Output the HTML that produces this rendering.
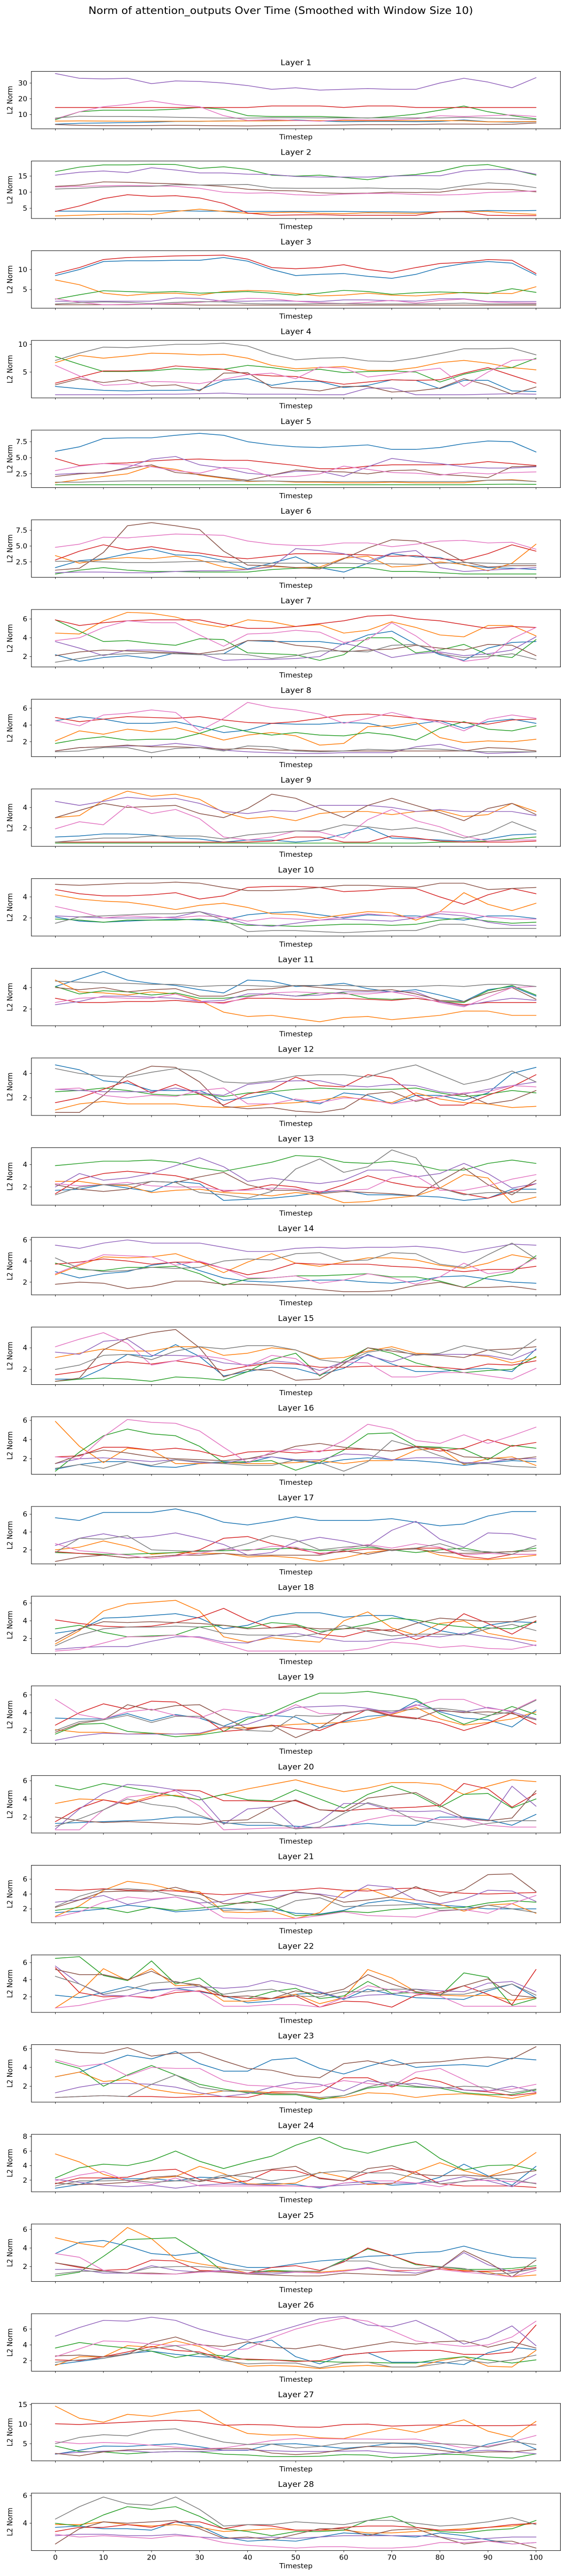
<!DOCTYPE html>
<html><head><meta charset="utf-8"><title>Norm of attention_outputs Over Time</title>
<style>
html,body{margin:0;padding:0;background:#fff;width:100%;height:100%;overflow:hidden;}
svg{display:block;position:absolute;left:0;top:0;width:100vw;height:100vh;font-family:"DejaVu Sans","Liberation Sans",sans-serif;overflow:hidden;}
</style></head>
<body>
<svg id="chart" viewBox="0 0 1089 5380" preserveAspectRatio="none" xmlns="http://www.w3.org/2000/svg">
<rect width="1089" height="5380" fill="#fff"/>
<text x="545" y="29" text-anchor="middle" font-size="21" fill="#000">Norm of attention_outputs Over Time (Smoothed with Window Size 10)</text>
</svg>
<script>
const timesteps = [0,5,10,15,20,25,30,35,40,45,50,55,60,65,70,75,80,85,90,95,100];
const xTicks = [0,10,20,30,40,50,60,70,80,90,100];
const seriesColors = ["#1f77b4","#ff7f0e","#2ca02c","#d62728","#9467bd","#8c564b","#e377c2","#7f7f7f"];
const yLimits = [[1,37.4],[1.8,19.7],[0.34,14.7],[0.34,10.7],[0.36,9.3],[0.08,9.14],[0.9,7],[0.22,7.08],[0.18,5.82],[0.28,5.74],[0.43,5.8],[0.55,5.27],[0.38,5.5],[0.8,6.24],[0.6,5.92],[0.38,6.38],[0.42,6.87],[0.31,6.77],[0.56,7.02],[0.25,6.57],[0.14,7.86],[0.18,6.9],[0.31,6.42],[0.4,8.3],[0.4,6.57],[0.67,7.94],[0.6,15.3],[2.02,6.18]];
const yTicks = [[10,20,30],[5,10,15],[5,10],[5,10],[2.5,5.0,7.5],[2.5,5.0,7.5],[2,4,6],[2,4,6],[2,4],[2,4],[2,4],[2,4],[2,4],[2,4,6],[2,4],[2,4,6],[2,4,6],[2,4,6],[2,4,6],[2,4,6],[2,4,6],[2,4,6],[2,4,6],[2,4,6,8],[2,4,6],[2,4,6],[5,10,15],[4,6]];
// each layer: [blue, orange, green, red, purple, brown, pink, gray]
const L1 = [[3.9,4.5,4.7,4.9,5.2,5.7,5.7,6,6,6.2,6.6,6,5.5,5.7,5.7,5.5,5.7,6.6,5.5,5.2,5.5],[5.9,6,5.9,5.8,5.8,5.8,5.8,5.9,6,6,6.2,6.2,6.2,6.1,6.1,6.1,6.2,6.1,5.4,5.5,5.6],[6.8,11.8,12.8,12.8,12.8,13.4,14.5,13.4,9.3,8.8,8.8,8.8,8.3,7.8,8.8,10.3,12.8,15.4,11.8,9.3,7.3],[14.5,14.5,14.5,14.5,14.5,14.5,14.5,14.5,14.5,15.5,15.5,15.5,14.5,15.5,15.5,14.5,14.5,14.5,14.5,14.5,14.5],[36,33,32.6,33,29.6,31.3,31,30,28.4,26,27,25.5,26,26.5,26,26,30,33,30.6,27,33.4],[3.7,3.2,3,3,3.1,3.2,3.1,2.9,2.8,3,3.1,3.2,3.4,3.6,3.6,3.7,4,4,3.8,3.9,4.7],[7.3,11.8,15,16.4,18.7,16.4,15,9.3,6.3,6.8,6.3,5.8,6.8,6.6,6.6,7.3,9.3,8.8,9.3,9.8,8.8],[7.8,9,8.8,8.8,8.6,8.3,8,7.8,7.8,8,8,7.9,7.9,7.9,7.9,7.9,7.9,8.3,7.8,7.5,6.8]];
const L2 = [[4.1,4.1,4,4,4.1,4.2,4.1,4.1,4,4,4,4,4,3.9,3.9,3.8,3.9,4.1,4.3,4.2,4.3],[2.6,2.8,3.1,3.2,3,4,4.7,4,3.4,3.6,3.8,3.4,3.3,3.6,3.5,3.4,3.8,4,4,3.4,3.1],[16.4,17.8,18.5,18.5,18.7,18.6,17.4,17.9,17.1,15.3,15,15.3,14.6,13.9,15,15.5,16.5,18.2,18.6,17.1,15.3],[4,5.7,8,9.2,8.7,8.9,8.2,6.5,3.5,2.8,2.9,3,2.8,2.8,2.8,2.8,3.9,3.9,2.8,2.7,2.7],[15.3,16.2,16.6,16.1,17.6,16.9,16,16,15.6,15.5,14.9,14.7,14.7,14.7,15,15.2,15.1,16.6,17.1,17,15.6],[11.8,12.2,13.2,13.1,12.8,12.6,12.2,11.8,10.9,10.5,10.4,9.8,9.6,9.7,10,9.9,10,11,10.9,10.8,10.1],[11.6,11.8,12,12.1,12,11.8,11.2,10,9.7,9.8,9.2,9,9.4,9.6,9.6,9.3,9.1,9.3,9.9,10.1,10.4],[11,11.2,11.6,11.8,11.8,12.3,12.2,12.3,12.4,11.3,11.2,11.2,11.2,11.3,11.1,11.1,10.9,12,12.9,12.5,11.4]];
const L3 = [[8.5,10,12,12.2,12.2,12.3,12.3,13,12.1,10,8.5,8.8,9,8.3,7.8,8.8,10.5,11.5,12,11.6,8.6],[7.4,6.2,4.1,3.5,4,4.1,3.6,4.5,4.8,4.6,4,3.4,3.6,4.1,3.6,3.4,3.8,4.3,4.1,4,5.7],[2.6,3.7,4.7,4.5,4.3,4.5,4.1,4.3,4.5,4.1,3.6,4.1,4.8,4.5,3.8,4.2,4.4,4.2,4,5.2,4.3],[9,10.5,12.5,13,13.2,13.4,13.5,13.6,12.6,10.5,10.2,10.5,11.2,10,9.3,10.5,11.5,11.8,12.5,12.3,9],[2.1,2.1,2.1,2.1,2.1,2.9,2.8,2.1,2.1,2.2,2.1,2,2.4,2.4,2.2,2.1,2.7,2.7,2,2,2],[1.2,1.2,1.2,1.2,1.3,1.3,1.1,1.1,1.1,1.1,1.1,1.1,1.1,1.1,1.1,1.1,1.1,1.1,1.1,1.1,1.1],[2.7,1.8,1.2,1.3,1.3,1.5,1.8,2.3,2.8,2.7,2.1,1.7,1.5,1.8,2.3,1.6,2.3,2.6,1.9,1.7,1.6],[1.4,1.7,1.9,1.8,1.5,1.8,2,1.9,1.5,1.4,1.4,1.5,1.5,1.4,1.4,1.4,1.5,1.6,1.4,1.4,1.4]];
const L4 = [[2.4,2,1.7,1.6,1.7,1.7,1.8,3.5,3.8,2.6,3.3,3.3,2.2,2.6,3.6,3.5,2,3.5,3.5,1.6,1.5],[6.7,8,7.5,7.9,8.4,8.3,8.1,8.2,7.5,6.2,5.6,5.8,6,5.3,5.3,5.8,6.7,7.1,6.6,5.8,5.4],[7.8,6.4,5.1,5.1,5.2,5.6,5.4,5.5,6.2,5.8,5.2,5.5,4.9,5.1,5.2,5,3.2,4.6,5.5,5.8,7.5],[3,4.1,5.2,5.2,5.4,6.1,5.8,5.5,4.6,4.3,4.2,3.4,2.8,3.2,3.6,3.5,3.6,4.8,5.8,4.4,3],[0.9,0.9,0.9,0.9,1,1,1.1,1.2,1,1,1,0.9,0.9,2.1,2.1,0.9,0.9,0.9,1,1.1,1],[2.7,3.8,3.1,3.6,2.5,2.7,1.6,4.8,4.9,2.2,2,1.6,2.4,2.4,1.4,1.6,2.1,3.8,2.6,1,2.3],[6.2,4.3,2.6,2.8,3.3,3.2,2.9,3.7,4.5,4.8,3.8,5.9,5.7,4.1,4.6,5.2,5.7,2.4,5,7.1,7.3],[7.1,8.4,9.5,9.4,9.7,10,10,10.2,9.7,8.2,7.2,7.5,7.6,7,6.9,7.5,8.3,9.2,9.2,9.3,8.1]];
const L5 = [[6,6.7,8,8.1,8.1,8.5,8.8,8.5,7.5,7,6.7,6.6,6.8,7,6.3,6.3,6.6,7.2,7.6,7.5,5.9],[1.1,1.6,2.1,2.5,3.7,3.2,2.3,1.8,1.3,1.4,1.2,1.2,1.1,1.1,1.2,1.1,1.1,1.1,1.5,1.6,1.3],[0.8,0.8,0.8,0.8,0.8,0.8,0.8,0.8,0.8,0.8,0.8,0.8,0.8,0.8,0.8,0.8,0.8,0.8,0.85,0.9,0.85],[4.9,3.8,4.1,4.2,4.5,4.7,4.8,4.6,4.6,4.2,3.8,3.3,3.3,3.7,3.9,3.9,3.9,4,4.4,4.1,3.8],[2.4,2.6,2.6,3.5,4.8,5.2,3.9,3.4,2.6,2.3,2.9,2.9,2.1,3.6,4.9,4.4,4.1,3.6,3.4,3.4,3.6],[2.1,2.5,2.7,3.3,3.9,2.7,2.4,1.9,1.5,2.3,3.1,2.9,2.8,2.5,3,3.1,2.4,2.2,1.9,3.6,3.7],[3,3.7,4.1,3.9,3.6,3,2.6,3.5,3.3,2,2.1,2.5,3.7,3.2,2.7,2.6,2.3,2.7,2.5,2.7,2.8],[1.2,1.2,1.3,1.4,1.4,1.4,1.4,1.4,1.4,1.4,1.3,1.3,1.3,1.3,1.3,1.3,1.3,1.3,1.5,1.5,1.3]];
const L6 = [[1.6,2.7,3,3.8,4.5,3.6,3.5,2.7,1.4,2.3,3.3,1.6,0.9,2.3,3.8,3.3,3.2,2,1.6,1.5,1.3],[3.5,2.3,2.9,3.2,3,3.4,2.8,1.7,1.3,1.8,1.6,1.7,3.1,3.4,1.7,1.9,2.5,2.1,1.1,2.3,5.3],[0.6,1.2,1.6,1.2,1,1,0.9,0.9,0.9,1.3,1.5,1.6,1.6,1.6,1,1,0.8,0.6,0.6,0.6,0.6],[2.8,4.2,5.2,4.4,4.9,4.3,3.9,3.3,3,3.4,3.8,3.8,3.7,3.6,3.4,3.5,3,2.8,3.8,5.2,4.2],[0.8,0.9,0.9,0.8,0.8,1,1.1,1.1,1.3,1.7,4.6,4.3,3.8,2.6,3.9,4.3,1.6,1,1.2,1.4,1.6],[1.2,1.5,4,8.2,8.7,8.2,7.6,4.2,2,1.9,1.6,1.4,3,4.7,6,5.8,4.5,2.5,1.7,1.9,1.9],[4.8,5.3,6.4,6.3,6.6,6.9,6.8,6.7,5.8,5.3,5.1,5.1,5.5,5.5,4.9,5.3,5.8,5.9,5.5,5.6,4.5],[2.6,2.6,2.5,2.4,2.4,2.5,2.6,2.5,2.4,2.3,2.3,2.3,2.3,2.2,2.2,2.1,2.3,2.4,2.3,2.2,2.2]];
const L7 = [[2.2,1.5,1.9,2.1,1.8,2.4,2.2,2.3,3.7,3.6,3.6,3.6,3.3,4.3,4.7,3.3,2.2,1.6,2.9,3.5,3.6],[4.5,4.4,5.8,6.7,6.6,6.2,5.5,5.1,5.9,5.7,5.2,5.4,4.5,4.8,5.7,5.1,4.3,4.1,5.3,5.3,4.2],[5.9,4.7,3.6,3.7,3.4,3.2,3.9,3.8,2.4,2.3,2.2,1.6,2.2,4,4,2.4,2.7,3.3,2.2,1.9,3.8],[5.9,5.3,5.6,5.8,5.9,5.9,5.9,5.4,5,5,5.2,5.5,5.8,6.3,6.4,6,5.8,5.4,5,5.2,5.1],[3.6,2.9,2.1,2.7,2.7,2.5,2.3,1.6,1.7,1.7,1.8,2,3.4,2.9,1.9,2.3,2.5,2.1,2.3,2.7,4.1],[2.1,2.5,2.7,2.6,2.5,2.4,2.3,2.7,3.7,3.7,3.2,3,2.5,2.7,2.8,3.2,2.9,2.7,3.3,3.2,2.1],[3.7,4,5.1,5.8,5.6,5.6,4.3,3.1,4.4,4.5,4.8,4.6,3.5,3.8,5.6,4.2,2.4,1.5,1.8,3.9,5.1],[1.4,1.8,2.2,2.3,2.4,2.3,2.2,2.3,2.2,1.8,2.1,2.6,2.6,2.5,3.2,3.3,2.3,1.9,2,2.3,1.7]];
const L8 = [[4.5,5,4.7,4.2,4.2,4.4,3.8,3.1,3.4,4.2,4.1,4.1,4.3,4.2,3.6,4.1,4.5,3.6,4.4,4.7,4.2],[2.1,3.3,2.9,3.5,3.2,3.7,3,2.2,2.8,3.1,2.7,1.6,1.8,3.8,3.9,4.3,2.5,1.9,2.1,2,2.3],[1.8,2.3,2.6,2.2,2.3,2.3,3,3.9,3.2,2.8,3.1,2.8,2.7,3.1,2.8,2.2,3.6,4.4,3.5,3.3,3.9],[4.9,4.4,4.7,5,4.9,4.8,5,4.6,4.3,4.2,4.4,4.8,5.2,5.3,5.1,4.8,4.5,4.3,4.1,4.6,4.7],[0.9,1.3,1.4,1.5,1.5,1.8,1.5,1,0.8,0.7,0.6,0.6,0.7,0.7,0.7,1.4,1.7,1,0.6,0.7,0.8],[0.9,1.3,1.4,1.6,1.4,1.4,1.3,1.1,1.2,1,1,0.9,0.9,0.9,0.9,0.9,0.9,0.9,1.3,1.2,0.9],[4.5,3.9,5.2,5.4,5.8,5.5,3.3,4.8,6.7,6.1,5.8,5.3,4.2,4.8,5.5,4.8,4.3,3.3,4.7,5.2,4.8],[0.8,0.9,1.3,1.3,0.7,1.2,1.3,0.9,1.5,1.4,0.9,0.8,0.9,1.1,1,1.2,1.1,0.9,0.8,0.8,0.8]];
const L9 = [[1.1,1.2,1.4,1.4,1.3,1,0.9,0.6,0.8,0.8,0.6,0.8,1.4,2,1,0.9,0.8,0.7,0.9,1.3,1.4],[3,3.2,4.7,5.6,5.1,5.3,4.8,3.5,2.9,3.1,2.7,3.4,3.6,3.6,3.3,3.6,3.7,3.1,3.3,4.4,3.6],[0.5,0.5,0.5,0.5,0.5,0.5,0.5,0.5,0.5,0.5,0.5,0.5,0.5,0.5,0.5,0.5,0.6,0.6,0.7,0.9,1.1],[0.6,0.6,0.6,0.6,0.6,0.6,0.6,0.6,0.6,0.7,1.1,1.1,0.6,0.6,1.2,1,0.7,0.6,0.6,0.6,0.7],[4.6,4.2,4.6,5,4.8,4.9,4.4,3.6,3.4,3.7,3.6,4.2,4.2,4.2,4,3.6,3.8,3.6,3.6,3.6,3.2],[3,3.7,4.4,4,4.1,4.2,3.4,3,3.9,5.3,4.9,3.9,3,4.2,4.9,4.2,3.5,2.7,3.9,4.4,3.3],[1.9,2.6,2.3,4.2,3.4,3.8,2.9,1.1,0.8,1.1,1.7,1.6,1,2.8,3.8,2.7,2.1,1.2,0.7,0.8,0.8],[0.6,0.8,1,1,1.2,1.2,1.2,0.9,1.3,1.5,1.7,1.7,2.3,2.1,1.8,2,1.6,1,1.5,2.6,1.7]];
const L10 = [[2.1,1.7,1.6,1.7,1.8,1.9,1.8,1.8,2.3,2.5,2.6,2.3,2,2.3,2.2,2.2,2,1.8,2.2,2.2,1.95],[4.2,3.8,3.6,3.5,3.2,2.8,3.2,3.4,3,2.4,2.3,2,2.3,2.6,2.5,1.8,2.6,4.4,3.3,2.7,3.4],[1.9,1.8,1.6,1.8,1.8,1.8,1.9,1.6,1.3,1.3,1.2,1.3,1.4,1.4,1.3,1.4,1.8,2,1.7,1.5,1.6],[4.7,4.3,4.1,4.1,4.2,4.4,3.8,4.1,4.9,5,5,4.9,4.5,4.6,4.8,4.8,4,3.3,4.2,4.8,4.3],[2.2,2.1,2,2,2,2.1,2.6,2.1,1.4,1.2,1.5,1.8,1.9,1.8,1.7,2,2.4,2.2,1.6,1.3,1.3],[5.2,5.1,5.2,5.3,5.3,5.4,5.3,4.9,4.6,4.6,4.7,4.9,5.1,5.1,5,4.9,5.3,5.3,4.7,4.8,4.9],[3.1,2.6,2,2.2,2.1,2,2.2,2.1,1.7,2,1.9,1.8,2.1,2.4,2.2,2,2.6,2.5,2.1,1.9,1.9],[1.5,2.1,2.2,2.3,2.4,2.4,2.6,1.8,0.7,0.8,0.8,0.7,0.6,0.7,0.8,0.8,1.4,1.4,1,1,1]];
const L11 = [[4.1,4.8,5.5,4.7,4.4,4.2,3.8,3.5,4.7,4.6,4.1,4.2,4.4,3.9,3.6,3.8,3.3,2.7,3.8,4.1,3.2],[4.7,3.6,3.5,3.3,3.6,3.4,2.8,1.7,1.3,1.4,1.1,0.8,1.2,1.3,1,1.2,1.4,1.8,1.8,1.4,1.4],[4.1,3.4,3.7,3.6,3.3,3.5,3,3,3.2,3.4,3.2,3.5,3.5,3,2.9,3,2.7,2.6,3.7,4.2,3.3],[3,2.6,2.6,2.7,2.7,2.8,2.6,2.6,3,3,2.9,2.9,3,2.9,2.8,3,2.7,2.4,2.6,2.6,2.6],[2.4,2.7,3.2,3.2,3.1,3,2.7,2.8,3.4,3.4,3.2,3.3,3.6,3.6,3.6,3.6,2.7,2.3,2.7,3,2.8],[4,3.8,4,3.6,3.8,3.9,3.2,3.2,3.8,3.9,4.2,4,3.8,3.7,3.8,3.4,2.8,2.7,3.5,4,2.9],[2.6,3,3.1,3,3,3.4,2.7,2.5,3.1,3.5,3.6,3.5,3.4,3.4,3.6,3.2,2.6,2.2,3.1,4,4.1],[4.6,4.5,4.4,4.4,4.3,4.3,4.1,4.2,4.2,4.1,4.2,4.2,4.2,4.1,4.1,4.1,4.2,4.1,4.3,4.3,4.1]];
const L12 = [[4.7,4.3,3.4,3.2,2.6,2.6,2.6,1.8,2,2.4,1.8,1.5,2.4,2.2,1.5,2.2,2.2,1.8,2.4,4,4.5],[1,1.5,1.7,1.5,1.5,1.5,1.3,1.2,1.3,1.5,1.6,1.8,2.1,1.8,1.6,2.4,1.9,1.6,1.5,1.2,1.3],[2.5,2.6,2.8,2.6,2.3,2.2,2.3,2.1,2.4,2.5,2.7,2.8,2.7,2.7,2.7,2.8,2.4,2.1,2.3,2.6,2.4],[1.6,2,2.7,3.4,2.4,3.1,2.3,1.4,2.3,2.7,3.7,3,2.9,3.9,3.6,2.2,1.4,1.4,2.2,2.9,3.9],[2.7,2.6,2.5,2.5,2.5,2.8,2.4,2.2,3.1,3.3,3.4,3.4,3,2.9,3.1,3,2.5,2.3,2.7,3,3.3],[0.8,0.8,2.2,3.9,4.6,4.5,3.3,1.3,1.1,1.2,0.9,0.8,1.1,2.3,2.5,1.7,2.1,2.3,1.5,1.8,2.6],[2.7,2.8,2.2,2,2.2,2.1,2.6,2.8,1.5,1.5,1.9,1.6,2,1.9,1.5,1.8,2.1,2.4,2.5,3,2.9],[4.4,4,3.8,3.7,4.1,4.4,4.2,3.3,3.2,3.4,3.8,3.9,3.9,3.7,4.3,4.7,3.9,3.1,3.5,4.2,3.3]];
const L13 = [[1.7,1.8,2.2,1.9,1.6,2.5,2.3,0.8,0.9,1,1.2,1.5,1.7,1.3,1.3,1.2,1.1,0.8,1,1.8,1.8],[2.5,2.5,2.2,2.1,1.5,1.7,1.8,1.5,1.4,1.2,1.5,1.3,0.6,0.7,1,1.2,1.9,3.1,2.8,0.6,1.1],[3.9,4.1,4.3,4.3,4.4,4.2,3.7,3.4,3.8,4.2,4.8,4.7,4.2,4.1,4.3,4,3.5,3.5,4.1,4.4,4.1],[1.4,2.7,3.2,3.4,3.2,3,2.5,1.6,1.8,2.2,2,1.5,2.2,3,2.4,2,1.9,1.4,1,1.6,2.3],[2,3.2,2.6,2.8,3.2,3.9,4.6,3.8,2.5,2.8,2.5,2.3,2.6,3.5,3.5,2.9,3.2,4.1,3.2,1.9,2.3],[2.2,1.8,1.6,1.8,2.5,2.4,2.9,3.3,2.2,1.7,1.7,1.4,1.6,1.5,1.4,1.2,2.5,3.7,2.2,1.3,2.6],[2.3,2.1,2.2,2.4,2.1,2,2,1.7,1.7,1.9,1.8,1.6,1.7,1.8,2.8,3,1.7,1.7,2.1,2.7,3.1],[1.3,2,2.2,2.2,2.5,2.4,1.5,1.3,1,1.6,3.6,4.5,3.3,3.8,5.3,4.6,1.9,1.3,1.5,1.5,1.5]];
const L14 = [[3,2.4,2.8,3,3.6,3.9,3.1,2.4,2.1,2,2.1,2.2,2.2,2,1.9,2.1,2.5,2.6,2.3,2,1.9],[2.7,3.6,4.4,4.3,4.4,4.7,3.9,2.9,3.9,4.7,3.8,3.5,3.9,4.3,4.3,4.1,3.6,3.3,3.8,4.6,4.2],[3.8,3.2,3.1,3.4,3.4,3.5,2.8,1.7,2.3,2.4,2.6,2.6,2.7,2.8,2.5,2.5,2.1,1.5,2.5,2.9,4.5],[3.7,3.9,4.2,4,3.7,3.9,3.9,3.3,2.7,3.1,3.8,3.7,3.7,3.7,3.5,3.4,3.2,3,3.2,3.2,3.5],[5.5,5.2,5.7,6,5.7,5.7,5.7,5.3,4.9,4.9,5.2,5.3,5.2,5.3,5.3,5.4,5.2,4.8,5.2,5.6,5.5],[1.8,2,1.9,1.4,1.6,2.1,2.1,1.8,1.8,1.7,1.5,1.3,1.1,1.1,1.2,1.7,2,1.5,1.5,1.6,1.3],[2.8,3.7,4.6,4.5,4.4,3.6,4,3.3,2.4,2.4,2.6,1.9,2.2,2.8,2.4,1.8,2.5,3.8,2.8,3.1,4.3],[4.3,3.3,3,3.1,3.4,3.3,3.4,4,4.2,4.1,4.7,4.8,4,4.1,4.8,4.7,3.7,3.4,4.6,5.7,4.2]];
const L15 = [[1.1,1.1,2.1,3.4,3.2,4.3,3.2,1.4,1.8,2.2,2.1,1.5,2.1,3.4,2.5,1.8,1.8,2,2.1,1.8,3.9],[3.1,3.5,3.9,3.7,3.7,4.1,4.1,3.3,3.5,4,3.8,3,3.1,3.7,4.1,3.5,3.4,3.4,3.2,2.6,3.1],[0.9,1.1,1.2,1.1,0.9,1.3,1.2,1,1.8,2.9,3.5,1.4,2.8,4,3.5,2.6,2.1,1.7,1.9,2,3.2],[1.5,1.8,2.5,2.7,2.5,2.8,2.5,1.9,2.3,2.6,2.5,2.2,2.2,2.3,2.3,2.3,2.2,2,2.5,2.4,2.8],[3.6,3.4,4.6,4.8,3.3,3.3,3.2,2.6,2.4,2.8,2.6,1.9,2.7,3.3,2.7,3.4,3.4,3.4,3.3,2.9,3.8],[0.9,1.2,3.8,4.9,5.4,5.7,4,1.3,2,1.9,1,1.1,2.5,4,3.7,3.4,3.3,3.1,3.8,3.9,4.1],[4.1,4.8,5.4,4.4,2.4,2.8,3.3,3,2.3,3.3,3,1.5,2.7,2.6,1.3,1.3,1.7,1.7,1.4,1.1,2.1],[2,2.4,3.3,3.4,2.9,3.7,4.1,3.9,4.2,4.2,3.8,2.9,2.6,3.6,3.9,3.3,3.5,4.2,3.8,3.3,4.8]];
const L16 = [[0.9,1.4,1.7,1.7,1.2,1.1,1.5,1.7,1.6,2.2,1.8,1.5,1.9,2.1,1.9,1.8,1.6,1.3,1.6,1.8,1.7],[5.9,3.3,1.6,3.1,2.9,1.5,1.5,1.6,1.5,1.5,1.6,1.8,1.5,1.8,1.8,2.9,3.1,1.4,2,2.2,1.3],[0.7,2.7,4.4,5.1,4.6,4.4,3.3,1.6,1.7,1.8,0.8,1.6,2.9,4.6,4.7,3.3,3.2,3,1.9,3.4,3.1],[2.2,2.3,3.2,3.2,2.9,3.1,2.8,2.2,2.7,2.8,2.6,2.8,3,3,2.8,3.3,2.8,3.1,4,3.3,3.7],[1.5,2,2.1,1.9,1.7,1.9,1.6,1.5,2,2.2,1.9,1.9,2.5,2.4,1.9,2.1,2.1,1.6,1.6,2,2],[1.5,2.4,2.9,2.6,2.2,2,1.9,1.8,2,2.5,3.3,3.6,3.2,3,2.8,3.2,3.1,2.2,2.1,1.9,2.2],[2.2,2,4.3,6.1,5.8,5.7,4.9,3.2,1.6,2.7,3,2.7,3.9,5.6,5.1,3.9,3.6,4.5,3.6,4.4,5.3],[1,1.4,1,1.7,1.3,1.9,1.7,1.5,1.3,1.3,1.9,1.6,0.7,1.7,3.9,3.2,2.3,1.5,1.5,1.2,1.1]];
const L17 = [[5.6,5.3,6.2,6.2,6.2,6.6,6,5.1,4.8,5.2,5.7,5.3,5.3,5.3,5.5,5.1,4.7,4.9,5.8,6.3,6.3],[2,2.3,3,2.4,1.5,1.7,1.6,1.6,1.2,1.3,1.1,0.7,1.1,1.7,2,2.2,1.4,1,0.9,1.1,1.4],[1.7,1.6,1.5,1.5,1.6,1.7,1.9,1.9,2,2.1,2.2,1.9,2,2.3,2,1.7,2,2.2,1.7,1.8,2.2],[1.8,1.6,1.4,1.1,1.2,1.4,2,3.3,3.5,2.7,2.1,1.6,1.8,2.1,2,2.2,2.2,1.3,1,1.5,1.5],[2.5,3.3,3.8,3.3,3.5,3.9,3.3,2.6,1.4,1.7,2.9,3.4,3,2.4,4.2,5.2,3.2,2.3,3.9,3.8,3.2],[0.7,1.2,1.4,1.1,1.2,1.4,1.4,1.6,1.4,1.4,1.4,1.4,1.9,1.5,2,2.1,1.7,1.6,1.7,1.8,1.9],[2.7,1.9,1.7,1.4,1,1.3,1.6,2.1,1.9,2.4,2.3,1.5,2.1,2.6,2.2,2.7,2.3,1.4,1.6,1.5,1.5],[1.7,3.3,3.2,3.6,2,1.9,1.8,2,2.7,3.6,3.1,2,2.3,2.5,1.9,2.2,2.7,1.9,1.8,1.5,2.5]];
const L18 = [[2.6,3,4.3,4.4,4.6,4.8,4.3,3.1,3.5,4.5,4.9,4.9,4.4,4.6,4.6,3.9,2.9,2.4,3.5,3.9,3.8],[1.4,2.9,5.1,5.9,6.1,6.3,5.1,2.2,1.6,2.1,1.8,1.6,4,5,3.2,2.4,3.7,4,2.6,2.1,1.7],[3.1,3.5,2.7,2.2,2.3,2.4,3.3,3.5,3.2,3.8,3.6,2.8,3.1,3.6,4.3,4.1,3.6,3.3,3.2,3.1,3.9],[4.1,3.7,3.4,3.3,3.4,3.8,4.4,5.4,4.1,3.2,3.5,2.5,2.2,2.9,3,1.9,2.8,4.8,3.7,2.5,4],[0.8,1,1.1,1.1,1.7,2.2,2.2,1.6,1.5,2.3,2.6,2.1,1.7,1.7,1.9,2.3,2.2,2.6,2.2,1.8,1.2],[1.7,3.1,3.9,3.8,3.9,3.8,3.7,3.5,3.1,3.2,3.3,3.1,3.1,3.2,2.8,3.7,4.3,4.1,3.9,3.9,4.5],[0.6,0.8,1.5,2.2,2.2,2.4,2.1,1.4,0.6,0.6,0.6,0.6,0.6,0.9,1.6,1.4,1,1.2,0.9,0.8,1.3],[1.2,2.4,3.1,3.3,3.3,3.4,3.3,2.6,2.4,2.4,2.2,2.6,3.5,2.8,2.3,2.5,2.5,2.4,3.1,3.6,2.9]];
const L19 = [[3.4,3.3,3.3,3.9,3.1,3.8,3.4,2.5,3.5,3.7,3.5,2.3,3,3.6,3.8,5.3,4.1,3.4,3.2,2.4,4.3],[2.1,1.8,1.8,1.6,1.7,1.6,1.6,2.3,2.3,2.5,2.7,2.8,2.9,3.2,3.8,4.6,3.3,2.6,2.9,3.3,4.1],[1.6,2.7,2.8,1.9,1.7,1.3,1.5,1.9,3.3,4,5.2,6.2,6.2,6.4,6,5.5,3.9,2.7,3.6,4.7,3.8],[2.6,4,5,4.4,5.3,5.2,3.8,1.9,2.1,2.6,2.2,2,3.1,4.4,3.7,3.4,2.9,2,2.8,4,2.7],[0.9,1.4,1.7,1.6,1.6,1.6,1.7,2.4,2.7,3.6,4.6,4.7,4.8,4.5,4,4.9,4.2,4.1,4.6,4.1,3.3],[1.8,2.8,3.2,4.9,4.3,4.8,4.9,3.5,2.2,2.6,1.2,2.3,4,4.3,3.6,3.3,4.3,4,4.1,3.9,3.2],[5.5,3.8,3.3,4.1,4.4,3.7,3.4,4.4,4.1,3.6,4.9,3.9,3.9,4.4,3.9,4.8,5.5,5.5,4.5,4.2,5.5],[2,3,3.2,3.7,2.9,3.6,3.6,2.5,2,1.9,3.7,3.6,3.9,4.3,4.2,4.4,4.5,4.2,3.7,4.1,5.4]];
const L20 = [[1.3,1.4,1.5,1.6,1.7,2,2,1.4,1.1,1.1,1,0.8,1.1,1.3,1.1,1.1,2,2,1.7,1.1,2.3],[3.5,4,3.9,3.5,4.3,4.4,3.9,4.5,5.1,5.6,6.1,5.4,4.8,5.2,5.8,5.8,5.6,4.5,5.4,6.1,5.9],[5.5,5,5.7,5.3,4.8,4.3,3.9,4.5,3.9,3.8,5,4,3,4.5,5.4,4.5,3.1,4.5,4.6,3,4],[1.5,3,3.9,3.4,4.1,5,4.9,3.8,3.8,3.7,3.8,2.8,2.7,2.9,3,3.1,3.3,5.7,5.1,3.1,4.6],[0.7,2.9,4.6,5.6,5.4,5,4.2,1.2,2.9,3.1,0.8,1.5,3.5,3.5,2.7,2.6,2.7,1.8,1.6,5.4,3.2],[2,1.6,1.4,1.5,1.4,1.3,1.2,1.6,1.7,3.1,3.9,2.8,2.6,4.1,4.4,4.7,3.3,1.9,1.6,1.9,4.9],[0.6,0.6,2.8,4.2,4.5,4.9,3.2,0.6,0.7,0.8,0.8,0.8,1,1.7,2.2,2,1.7,1.8,1.1,0.9,0.9],[1,1.8,2.8,4,3.4,3.1,2.2,1.3,1.4,1.4,0.7,0.9,2.4,3.6,2.9,1.6,1.3,0.9,1.3,1.6,1.6]];
const L21 = [[1.5,1.7,2,2.5,2.2,1.6,1.8,2.1,1.9,2,1.4,1.3,1.8,2.8,3.2,2.7,2.5,2.3,2,2,2],[1,2.4,4.5,5.7,5.3,4.5,4.3,1.6,1.5,1.7,0.7,1.5,4.3,4.7,3.5,3.2,2.6,1.7,2.5,2.7,1.4],[1.8,2.2,2.1,1.5,2.2,1.8,2.1,2.4,3,2.4,1.1,1.2,1.7,1.5,1.9,2.1,2.1,2.2,2.8,3.1,2.9],[4.6,4.5,4.7,4.5,4.5,4.4,4.1,3.9,4.1,4.4,4.5,4.8,4.5,4.4,4.7,4.8,4.3,4.1,4,4.1,4.2],[2.9,3.2,3.8,2.6,3.2,3.6,2.8,3,4,3.5,4.2,4,3.5,5.2,4.9,3.2,2.7,3.3,4.5,4.4,3],[2.2,3.2,4.3,4.4,4.3,4.9,4,2.7,2.8,3.2,4.3,3.9,2.9,3.2,3.6,5,3.7,4.6,6.6,6.7,4.3],[0.9,1.6,2.9,3.6,3.3,3.6,2.7,0.8,0.7,0.7,0.7,1.1,1.6,1.1,1,0.9,1.7,1.9,1.4,2.7,3.8],[2.3,3.7,4.6,4.7,4.5,3.8,3.4,1.8,1.9,1.7,3.1,3.5,2.3,2.4,2.5,2.6,1.8,1.9,2.5,2,1.5]];
const L22 = [[2.2,1.9,2.5,3.2,2.7,3,2.6,2.1,1.3,1.5,2.3,2.5,1.7,2.9,2.3,1.9,1.8,1.7,2.7,3.5,1.9],[0.7,2.5,5.3,3.9,5.3,3.3,3.4,1.5,1.5,1.8,2.3,1.2,1.9,5.2,4.2,2.6,2.2,2.1,2.2,1.6,1.9],[6.5,6.7,4.5,3.9,6.2,3.5,4.2,2.1,1.8,2.6,3,1.8,2.1,3.8,2.4,2.5,2.1,4.8,4.3,1,1.8],[5.4,2.5,2,2.1,1.9,2.5,2.7,2.1,1.8,1.8,2.1,0.8,1.5,1.4,0.8,2.2,2.5,3.3,2.3,1.1,5.2],[5.6,3.5,2.2,2.1,2.8,3,3.2,3,3.2,3.9,3.4,2.6,1.8,2.2,2.3,2.9,2.7,2.6,3.6,3.8,2.6],[5.2,4.6,4.6,4,5,3.7,3.4,2,2.1,1.8,2.7,2.3,2.9,4.6,3.5,2.6,2.3,3.3,4.1,2.2,1.9],[0.7,1,1.6,2.1,1.8,2.8,2.6,0.9,0.9,1.1,1.1,0.8,1.9,3.3,2.8,2.4,2.1,0.9,0.9,0.9,0.9],[4.4,3.5,2.3,2.8,3.6,3.8,3.2,2.3,2.7,2.9,2.1,2,2.6,2.6,2.9,2.9,2.3,2.3,2.9,3.5,2.2]];
const L23 = [[3,3.5,4.4,5.3,4.9,5.7,4.4,3.6,3.6,4.8,5,3.9,3.3,4.1,4.8,4,4.2,4.3,4.1,5,4.8],[3,3.5,2.5,2.7,1.7,1.3,1.1,1.5,1.5,1.3,1.2,0.7,0.8,1.3,1.2,0.8,1.1,1.2,1,0.7,1.2],[4.6,3.9,2,3.2,4.2,3.2,2.2,1.7,1.3,1.1,1.1,0.6,1,1.8,2.1,1.9,1.8,1.3,1.1,1.1,1.6],[0.8,0.9,1,0.9,0.9,0.8,0.9,0.9,0.8,1.4,1.4,1.3,2.9,2.9,1.9,2.9,2.5,1.6,1.4,1,1.3],[1.3,1.9,2.3,2.3,2.2,1.9,1.3,0.9,1.2,1.9,2.4,2.2,1.5,2.6,2.2,2.3,1.9,1.6,1.5,2,1.4],[5.9,5.6,5.5,6.1,5.2,5.5,5.6,4.7,3.9,3.7,3.1,2.9,4.4,4.7,4.2,4.5,4.6,4.9,5.1,4.9,6.2],[4.8,4.1,4.4,3.1,4,3.9,3.9,2.6,2.1,2,1.7,2,2.6,2.3,2,3.5,3.9,2.7,1.5,1.7,2.2],[0.8,0.9,1,0.9,2.2,3.2,1.9,1.5,1.4,1.2,1.2,0.8,1,1.9,2.5,2,1.8,2,1.9,1.3,1.7]];
const L24 = [[0.9,1.4,2.2,2.2,2.2,1.9,2.4,2.3,1.4,1.6,1.4,0.9,1.6,1.8,1.3,1.5,2.4,4.2,2.6,1.3,3.9],[5.6,4.5,2.8,1.9,2.2,2.5,3.9,2.9,1.5,1.4,1.6,3.1,2.4,1.4,1.5,3.2,4.4,3.3,2.5,3.6,5.8],[2.3,3.7,4.2,4,4.7,6,4.6,3.6,4.5,5.3,6.8,7.9,6.4,5.7,6.6,7.3,5,3.4,4,4.1,3.4],[1.5,2.3,2.3,2.4,3.3,3.5,2.1,1.6,1.9,3.4,3.3,2.3,1.9,3,3.6,3.1,1.5,1.2,1.2,1.2,1],[2.1,1.7,1.3,1.1,1.3,0.9,1.3,1.5,1.4,1.3,1.2,1.1,1.3,1.5,1.6,1.6,1.8,2.5,1.9,1.1,2.8],[1.6,1.4,1.5,1.7,2.4,2.6,1.8,2.4,3,3.5,3.9,2.2,1.9,3.6,4,2.8,2.6,2.7,2.5,2.9,3.3],[1.9,2.7,3.2,1.9,1.4,2.3,1.2,1.2,1.2,1.2,1.2,1,1.6,1.9,1.9,1.6,1.1,1.9,2,1.8,1.6],[1.2,1.9,1.9,2,1.7,1.9,1.9,2.7,2.5,1.9,2.4,3,3.3,3,3,2.3,1.5,1.8,2.3,2.1,1.5]];
const L25 = [[3.4,4.6,4.8,4.2,3.4,3.2,3.5,2.4,1.9,1.9,2.3,2.6,2.8,3.1,3.2,3.5,3.6,4.2,3.5,3,2.9],[5.1,4.5,4.1,6.2,5,2.8,2.3,1.9,1.3,1.5,1.5,1.4,1.6,1.8,1.5,1.6,1.7,1.6,1.4,0.9,1.1],[1,1.4,3.1,4.9,5,5.1,3.5,1.4,1.3,1.6,1.5,1.5,2.7,3.9,3.2,2.2,2,1.7,1.7,1.8,2.1],[2.4,1.9,1.6,1.7,2.7,2.6,1.6,1.5,1.3,1.9,2.1,1.6,2.5,4,3.2,2.3,1.9,1.5,1.5,1.6,1.9],[1.7,1.7,1.3,1.3,2.1,1.6,1.4,1.6,1.3,1.2,1.4,1.3,1.5,1.9,1.5,1.3,1.8,3.5,2.2,1.4,1.8],[2.4,2,1.5,1.3,1.3,1.2,1.5,1.4,1.2,1.1,1,1,1.3,1.2,1.1,1.1,1.8,3.7,2.5,0.9,2.7],[3.4,3,1.6,1.3,1.2,1.2,1.4,1.5,1.3,1.4,1.4,1.3,1.5,1.8,1.6,1.6,1.7,1.4,1.2,0.9,1.6],[1.2,1.5,1.5,1.3,1.9,2,2,1.8,1.6,1.4,1.5,1.5,2.6,2.6,1.9,1.8,2,1.8,1.2,1.3,1.8]];
const L26 = [[1.5,1.9,2.3,2.9,3.2,2.8,2.5,2.4,4.2,4.6,2.5,1.6,2.7,3,1.8,1.8,1.8,1.5,3,3.7,3.4],[1.4,2.5,2.5,3.9,3.7,4.5,3.8,2.2,1.3,1.4,1.3,1,1.3,1.4,1.2,1.2,2,2.5,1.3,1.2,3.3],[3.6,4.3,3.9,3.6,3.2,2.4,2.9,2.6,2.1,2.1,2,1.9,1.8,1.8,1.7,1.7,2.2,2.5,2.1,1.7,2.1],[2.1,2,2.5,3.1,3.8,3.3,3.1,2.2,2.2,2.1,1.9,2,2.7,3,3.2,3.3,3.3,2.8,2.8,3.1,6.5],[5.1,6.2,7.1,7,7.5,7.1,6,5.2,4.6,5.5,6.4,7.3,7.6,6.5,6.3,7.1,5.7,4.1,4.9,6.4,3.9],[2.6,2.7,2.5,2.8,4.3,5,4,3.8,4.4,3.7,3.5,4,3.4,3.9,4.4,4.1,4.4,4.5,3.7,4.4,3.6],[2.5,3.5,4.5,4.4,4.1,3.9,4.1,3.3,3.5,4.9,6,6.8,7.4,7,5.8,4.5,4.1,3.8,4,5,7],[1.8,2.1,2.3,2.8,3.5,3.9,2.9,2,1.6,1.7,1.7,1.1,1.7,1.8,1.2,1.2,1.6,2.1,1.7,2.1,2.7]];
const L27 = [[2.3,3.3,4.4,4.3,4.7,5,4.2,3.3,3.3,4.9,5,4.4,3.8,4.3,5.1,4.9,4.2,2.9,4.9,6.2,3.6],[14.6,11.5,10.5,12.5,12,13.1,13.6,10,7.6,7.2,7.3,6.5,6.3,7.8,9,7.9,9.5,11.1,8.2,6.7,10.7],[4.4,3,2.9,2.4,2.8,3,2.9,2.3,2.1,1.7,1.7,1.8,2.2,2.1,1.4,1.8,2.3,2.2,1.6,1.3,2.4],[10.1,9.9,10.2,10.5,10.8,11,10.6,9.7,9.9,9.8,9.3,9.2,9.9,10,9.5,9.7,9.8,9.6,9.6,9.6,9.8],[2.4,2.8,3.1,3.2,2.8,3,3,3.3,3.4,3.2,3,3,3.1,3.2,2.6,2.5,2.4,3,3.3,3,2.4],[2.5,1.9,2.9,3.4,3.6,3.7,3.5,3.7,3.8,2.6,2.2,2.6,3.5,4.3,4.1,4.2,3.3,2.6,2.9,2.9,3.5],[5.5,5,5.3,5.1,4.6,4.1,3.7,3.9,4.8,5.8,6.3,6.3,6.2,6.2,6.1,6.2,5.1,3.9,4.4,5.5,7.1],[5,6.6,7.3,7,8.5,8.8,7,5.4,4.8,4.9,3.9,4.3,5.2,5.2,5.2,5.1,5,4.8,4.1,5.5,4.8]];
const L28 = [[3.7,3.8,3.6,3.6,3.5,4.1,3.8,3,2.7,2.8,2.7,3,3.3,3.2,3.1,3,3.3,3.1,2.8,2.5,2.6],[3.9,3.9,4.1,3.9,3.8,3.9,3.7,3.4,3.5,3.6,3.5,3.5,3.5,3.3,3.3,3.4,3.5,3.6,3.7,3.8,4],[4,3.8,4.6,5.2,5,5.2,4.5,3.6,3.4,3.1,3.4,3.4,3.5,4.2,4.5,3.7,3.4,3.3,3.5,3.6,4.2],[3.4,3.7,3.7,3.9,3.7,4.1,4.1,3.6,3.9,3.8,3.5,3.5,3.7,3.8,3.8,3.7,3.5,3.5,3.7,3.9,4],[3.1,3.2,3.2,3.1,3.1,3.2,3,2.9,2.9,3,2.9,3,3.1,3.1,3.1,3.1,3,2.8,2.9,3,3],[2.5,3.6,4.1,4,4.1,4.2,3.6,2.9,3,2.8,3.2,3.6,3.6,3.1,3.5,3.6,3,2.5,2.7,2.7,2.2],[3.2,3,3.1,3,2.9,3.1,3,2.6,2.4,2.3,2.2,2.3,2.3,2.2,2.2,2.3,2.6,2.6,2.7,2.5,2.6],[4.3,5.2,5.9,5.4,5.3,5.9,5,3.8,3.9,3.9,4.1,4,3.9,4.2,4.2,4,3.8,3.9,4.1,4.4,3.9]];
const layerData = [L1,L2,L3,L4,L5,L6,L7,L8,L9,L10,L11,L12,L13,L14,L15,L16,L17,L18,L19,L20,L21,L22,L23,L24,L25,L26,L27,L28];

const NS = "http://www.w3.org/2000/svg";
const svg = document.getElementById("chart");
const AX_LEFT = 61, AX_RIGHT = 1088, AX_H = 120, TOP0 = 149, PITCH = 187.33;
const X0 = 107.5, X100 = 1040.5;
function xScale(t){ return X0 + (X100 - X0) * t / 100; }
function mk(tag, attrs){ const e = document.createElementNS(NS, tag); for (const k in attrs) e.setAttribute(k, attrs[k]); return e; }

layerData.forEach((layer, i) => {
  const top = TOP0 + i * PITCH, bottom = top + AX_H;
  const [ymin, ymax] = yLimits[i];
  const yScale = v => bottom - (v - ymin) / (ymax - ymin) * AX_H;
  const g = mk("g", {});
  
  
  svg.appendChild(g);

  const title = mk("text", {x: (AX_LEFT + AX_RIGHT) / 2, y: top - 13, "text-anchor": "middle", "font-size": "16", fill: "#000"});
  
  
  title.textContent = "Layer " + (i + 1);
  g.appendChild(title);

  layer.forEach((vals, s) => {
    const pts = vals.map((v, k) => xScale(timesteps[k]).toFixed(1) + "," + yScale(v).toFixed(1)).join(" ");
    const pl = mk("polyline", {points: pts, fill: "none", stroke: seriesColors[s], "stroke-width": "1.6", "stroke-linejoin": "round", "stroke-linecap": "round"});
    
    
    g.appendChild(pl);
  });

  const frame = mk("rect", {x: AX_LEFT, y: top, width: AX_RIGHT - AX_LEFT, height: AX_H, fill: "none", stroke: "#000", "stroke-width": "1"});
  
  
  g.appendChild(frame);

  const hasDecimal = yTicks[i].some(t => t % 1 !== 0);
  yTicks[i].forEach(tv => {
    if (tv < ymin || tv > ymax) return;
    const y = yScale(tv);
    const tk = mk("line", {x1: AX_LEFT - 3.5, x2: AX_LEFT, y1: y, y2: y, stroke: "#000", "stroke-width": "0.8"});
    
    
    g.appendChild(tk);
    const lb = mk("text", {x: AX_LEFT - 8, y: y + 5, "text-anchor": "end", "font-size": "14", fill: "#000"});
    
    
    lb.textContent = hasDecimal ? tv.toFixed(1) : String(tv);
    g.appendChild(lb);
  });

  xTicks.forEach(t => {
    const x = xScale(t);
    const tk = mk("line", {x1: x, x2: x, y1: bottom, y2: bottom + 3.5, stroke: "#000", "stroke-width": "0.8"});
    
    
    g.appendChild(tk);
    if (i === layerData.length - 1) {
      const lb = mk("text", {x: x, y: bottom + 19, "text-anchor": "middle", "font-size": "14", fill: "#000"});
      
      
      lb.textContent = String(t);
      g.appendChild(lb);
    }
  });

  const xl = mk("text", {x: (AX_LEFT + AX_RIGHT) / 2, y: bottom + (i === layerData.length - 1 ? 37 : 22), "text-anchor": "middle", "font-size": "14", fill: "#000"});
  
  
  xl.textContent = "Timestep";
  g.appendChild(xl);

  const cy = top + AX_H / 2;
  const yl = mk("text", {x: 0, y: 0, "text-anchor": "middle", "font-size": "14", fill: "#000", transform: "translate(24," + cy + ") rotate(-90)"});
  
  
  yl.textContent = "L2 Norm";
  g.appendChild(yl);
});
</script>
</body></html>
